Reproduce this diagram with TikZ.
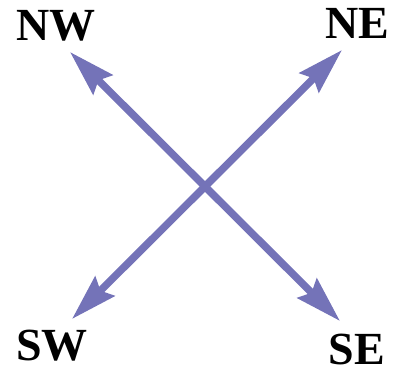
\documentclass[tikz,border=0pt]{standalone}
\usepackage{fontspec}
\setmainfont{Liberation Serif}
\usetikzlibrary{arrows.meta}
\definecolor{compass}{RGB}{116,115,184}
\tikzset{
  tipend/.tip={Stealth[length=46pt,width=27pt,inset=6pt]},
  dirline/.style={draw=compass,line width=7.5pt,tipend-tipend},
  dirlabel/.style={font=\fontsize{46}{46}\selectfont\bfseries,inner sep=0pt}
}
\begin{document}
\begin{tikzpicture}[x=1pt,y=-1pt]
  \useasboundingbox (0,0) rectangle (396,372);
  % arrow tips
  \coordinate (nw) at (70,52);
  \coordinate (ne) at (342,50);
  \coordinate (sw) at (72,319);
  \coordinate (se) at (340,321);
  \draw[dirline] (se)--(nw);
  \draw[dirline] (sw)--(ne);
  % labels
  \node[dirlabel] (lnw) at (56,26) {NW};
  \node[dirlabel] (lne) at (357,23) {NE};
  \node[dirlabel] (lsw) at (52,346) {SW};
  \node[dirlabel] (lse) at (357,349) {SE};
\end{tikzpicture}
\end{document}
